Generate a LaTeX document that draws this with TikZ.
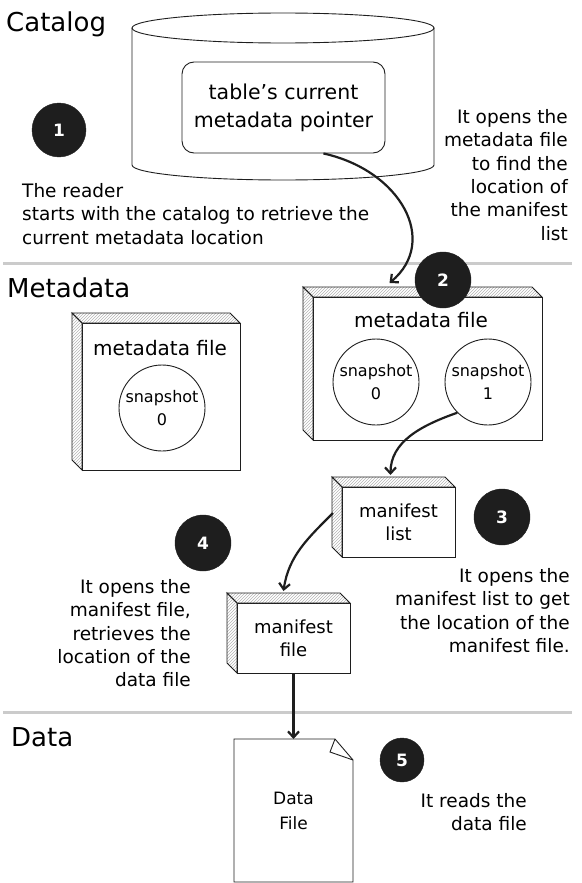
\documentclass[tikz,border=0pt]{standalone}
\usepackage{fontspec}
\setmainfont{DejaVu Sans}
\usetikzlibrary{arrows.meta,positioning,calc,patterns}
\definecolor{ink}{HTML}{1E1E1E}
\definecolor{rulegrey}{HTML}{CBCBCB}
\definecolor{hatchgrey}{HTML}{B4B4B4}

% hatched top and left faces of a box node
\newcommand{\boxbevel}[1]{%
  \draw[ink,line width=0.9pt,pattern=north east lines,pattern color=hatchgrey]
    ([xshift=-10pt,yshift=10pt]#1.north west) -- ([xshift=-10pt,yshift=10pt]#1.north east)
    -- (#1.north east) -- (#1.north west) -- cycle;
  \draw[ink,line width=0.9pt,pattern=north east lines,pattern color=hatchgrey]
    ([xshift=-10pt,yshift=10pt]#1.north west) -- (#1.north west) -- (#1.south west)
    -- ([xshift=-10pt,yshift=10pt]#1.south west) -- cycle;}

\begin{document}
\begin{tikzpicture}[x=1pt,y=-1pt,
    title/.style={anchor=base west,inner sep=0pt,font=\fontsize{26}{30}\selectfont},
    note/.style={inner sep=0pt,font=\fontsize{18.5}{23.4}\selectfont},
    filebox/.style={draw=ink,fill=white,line width=0.9pt,outer sep=0pt,inner sep=0pt,
      align=center,font=\fontsize{18}{23}\selectfont},
    boxlabel/.style={inner sep=0pt,font=\fontsize{20}{24}\selectfont},
    snap/.style={circle,draw=ink,line width=0.9pt,minimum size=86pt,inner sep=0pt,
      align=center,font=\fontsize{16}{23}\selectfont},
    stepdot/.style={circle,fill=ink,draw=ink,text=white,inner sep=0pt,
      font=\fontsize{17}{17}\selectfont\bfseries},
    flow/.style={ink,line width=2.2pt,-{Straight Barb[length=6pt,width=11pt]}}]
  \useasboundingbox (0,0) rectangle (581,883);

  % section rules
  \coordinate (rule1l) at (3,263);   \coordinate (rule1r) at (572,263);
  \coordinate (rule2l) at (3,712);   \coordinate (rule2r) at (572,712);
  \draw[rulegrey,line width=3pt] (rule1l) -- (rule1r);
  \draw[rulegrey,line width=3pt] (rule2l) -- (rule2r);

  \node[title] (cattitle) at (6,32) {Catalog};
  \node[title] (metatitle) at (7,297) {Metadata};
  \node[title] (datatitle) at (11,746) {Data};

  % catalog drum
  \node[minimum width=302pt,minimum height=167pt,inner sep=0pt,outer sep=0pt]
    (catalogdb) at (283,96.5) {};
  \draw[ink,line width=0.9pt] ($(catalogdb.north)+(0,15)$) ellipse [x radius=151, y radius=15];
  \draw[ink,line width=0.9pt] ($(catalogdb.north west)+(0,15)$) -- ($(catalogdb.south west)+(0,-15)$)
    arc[start angle=180, end angle=0, x radius=151, y radius=15] -- ($(catalogdb.north east)+(0,15)$);
  \node[draw=ink,line width=0.9pt,rounded corners=12pt,minimum width=203pt,minimum height=91pt,
        align=center,font=\fontsize{20.5}{28}\selectfont]
    (ptr) at (283.5,107.5) {table's current\\metadata pointer};

  % metadata files
  \node[filebox,minimum width=158pt,minimum height=147pt] (mfold) at (161,396.5) {};
  \boxbevel{mfold}
  \node[boxlabel] (mfoldlabel) at (160,348) {metadata file};
  \node[snap] (snapold) at (162,408) {snapshot\\0};

  \node[filebox,minimum width=229pt,minimum height=143pt] (mfnew) at (427.5,368.5) {};
  \boxbevel{mfnew}
  \node[boxlabel] (mfnewlabel) at (421,320) {metadata file};
  \node[snap] (snapzero) at (376,382) {snapshot\\0};
  \node[snap] (snapone) at (488,382) {snapshot\\1};

  \node[filebox,minimum width=113pt,minimum height=70pt] (mlist) at (398.5,522) {manifest\\list};
  \boxbevel{mlist}
  \node[filebox,minimum width=113pt,minimum height=70pt] (mfile) at (293.5,638) {manifest\\file};
  \boxbevel{mfile}

  % data file with folded corner
  \node[minimum width=119pt,minimum height=143pt,inner sep=0pt,outer sep=0pt,align=center,
        font=\fontsize{17}{25}\selectfont] (datafile) at (293.5,810.5) {Data\\File};
  \draw[ink,line width=0.9pt] (datafile.north west) -- ([xshift=-18pt]datafile.north east)
    -- ([yshift=-21pt]datafile.north east) -- (datafile.south east) -- (datafile.south west) -- cycle;
  \draw[ink,line width=0.9pt] ([xshift=-18pt]datafile.north east)
    -- ([xshift=-23pt,yshift=-13pt]datafile.north east) -- ([yshift=-21pt]datafile.north east);

  % reading path
  \draw[flow] (ptr.-49) .. controls +(77,17) and +(50,-42) .. ([xshift=-38pt,yshift=14pt]mfnew.north);
  \draw[flow] (snapone.225) .. controls +(-37,13) and +(0,-33) .. ([xshift=-8pt,yshift=12pt]mlist.north);
  \draw[flow] ([xshift=-9pt,yshift=9pt]mlist.west) .. controls +(-25,25) and +(5,-35) .. ([xshift=-10pt,yshift=12pt]mfile.north);
  \draw[flow] (mfile.south) -- (datafile.north);

  \foreach \n/\pos/\sz in {1/{(59,130)}/54,2/{(443,280)}/56,3/{(502,517)}/56,4/{(203,543)}/56,5/{(402,760)}/44}
    \node[stepdot,minimum size=\sz pt] (step\n) at \pos {\n};

  % notes
  \node[note,align=left,anchor=north west] (readnote) at (22,183)
    {The reader\\starts with the catalog to retrieve the\\current metadata location};
  \node[note,align=right,anchor=north east] (opennote) at (568,109)
    {It opens the\\metadata file\\to find the\\location of\\the manifest\\list};
  \node[note,align=right,anchor=north east] (mlnote) at (570,568)
    {It opens the\\manifest list to get\\the location of the\\manifest file.};
  \node[note,align=right,anchor=north east] (mfnote) at (191,579)
    {It opens the\\manifest file,\\retrieves the\\location of the\\data file};
  \node[note,align=right,anchor=north east] (datanote) at (527,793)
    {It reads the\\data file};
\end{tikzpicture}
\end{document}
